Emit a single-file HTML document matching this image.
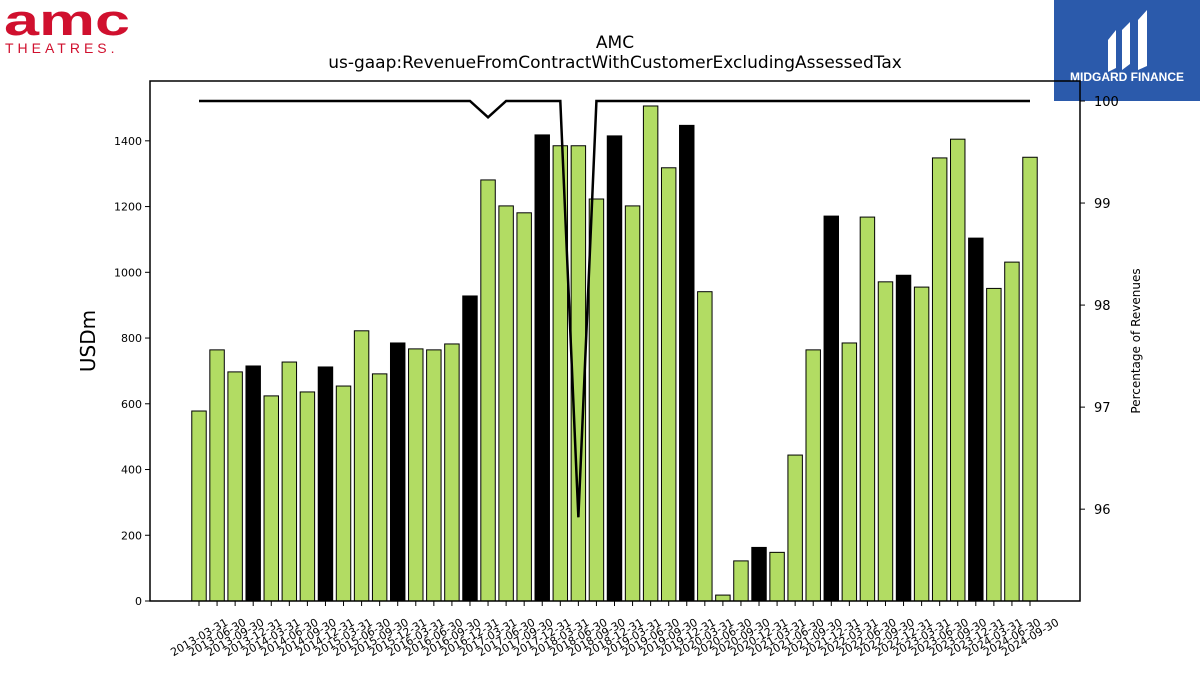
<!DOCTYPE html>
<html><head><meta charset="utf-8"><style>
body{margin:0;background:#fff;width:1200px;height:675px;overflow:hidden;font-family:"Liberation Sans","DejaVu Sans",sans-serif}
svg text{font-family:"DejaVu Sans","Liberation Sans",sans-serif}
</style></head><body>
<svg id="c" width="1200" height="675" xmlns="http://www.w3.org/2000/svg">
<g>
<text x="4" y="35" font-size="44" font-weight="bold" fill="#d0102e" style="font-family:'Liberation Sans',sans-serif" textLength="126" lengthAdjust="spacingAndGlyphs">amc</text>
<text x="5" y="53" font-size="14" fill="#d0102e" style="font-family:'Liberation Sans',sans-serif;letter-spacing:4px">THEATRES.</text>
</g>
<g>
<rect x="1054" y="0" width="146" height="101" fill="#2b5aab"/>
<path d="M1108 40 L1116 30 L1116 68 L1108 72 Z M1122 30 L1130 22 L1130 64 L1122 70 Z M1138 20 L1147 10 L1147 66 L1138 70 Z" fill="#fff"/>
<text x="1127" y="81" font-size="12" font-weight="bold" fill="#fff" text-anchor="middle" style="font-family:'Liberation Sans',sans-serif">MIDGARD FINANCE</text>
</g>
<text x="615" y="48" font-size="17" text-anchor="middle">AMC</text>
<text x="615" y="68" font-size="17" text-anchor="middle">us-gaap:RevenueFromContractWithCustomerExcludingAssessedTax</text>
<text transform="translate(95,341) rotate(-90)" font-size="20" text-anchor="middle">USDm</text>
<text transform="translate(1140,341) rotate(-90)" font-size="12" text-anchor="middle">Percentage of Revenues</text>
</svg>
<script>
const categories=["2013-03-31","2013-06-30","2013-09-30","2013-12-31","2014-03-31","2014-06-30","2014-09-30","2014-12-31","2015-03-31","2015-06-30","2015-09-30","2015-12-31","2016-03-31","2016-06-30","2016-09-30","2016-12-31","2017-03-31","2017-06-30","2017-09-30","2017-12-31","2018-03-31","2018-06-30","2018-09-30","2018-12-31","2019-03-31","2019-06-30","2019-09-30","2019-12-31","2020-03-31","2020-06-30","2020-09-30","2020-12-31","2021-03-31","2021-06-30","2021-09-30","2021-12-31","2022-03-31","2022-06-30","2022-09-30","2022-12-31","2023-03-31","2023-06-30","2023-09-30","2023-12-31","2024-03-31","2024-06-30","2024-09-30"];
const revenues=[578,764,697,715,624,727,636,712,654,822,691,785,767,764,782,928,1281,1202,1181,1418,1385,1385,1223,1415,1202,1506,1318,1447,941,18,122,163,148,444,764,1171,785,1168,971,991,955,1348,1405,1104,951,1031,1350];
const pctValues=[100,100,100,100,100,100,100,100,100,100,100,100,100,100,100,100,99.84,100,100,100,100,95.92,100,100,100,100,100,100,100,100,100,100,100,100,100,100,100,100,100,100,100,100,100,100,100,100,100];
const leftTicks=[0,200,400,600,800,1000,1200,1400];
const rightTicks=[96,97,98,99,100];
const L=150,R=1080,T=81,B=601;
const yL=v=>B-v*(B-T)/1582;
const yR=v=>B-(v-95.1)*(B-T)/(100.196-95.1);
const xC=i=>199+i*(1030-199)/(categories.length-1);
const svg=document.getElementById('c');
const NS='http://www.w3.org/2000/svg';
function mk(t,a,p){const e=document.createElementNS(NS,t);for(const k in a)e.setAttribute(k,a[k]);(p||svg).appendChild(e);return e;}
const bw=(1030-199)/(categories.length-1)*0.8;
revenues.forEach((v,i)=>{
 const r=mk('rect',{x:xC(i)-bw/2,y:yL(v),width:bw,height:B-yL(v),fill:(i%4==3)?'#000':'#b2dc63',stroke:'#000','stroke-width':1});
 
 
 mk('line',{x1:xC(i),x2:xC(i),y1:B,y2:B+5,stroke:'#000'});
 const t=mk('text',{x:0,y:4,'font-size':11,'text-anchor':'middle',transform:`translate(${xC(i)},${B+36}) rotate(-30)`});
 t.textContent=categories[i];
 
 
});
let d='';pctValues.forEach((v,i)=>{d+=(i?'L':'M')+xC(i)+' '+yR(v)});
const ln=mk('path',{d:d,fill:'none',stroke:'#000','stroke-width':2.5});


const fr=mk('rect',{x:L,y:T,width:R-L,height:B-T,fill:'none',stroke:'#000','stroke-width':1.5});


leftTicks.forEach(v=>{
 mk('line',{x1:L-5,x2:L,y1:yL(v),y2:yL(v),stroke:'#000'});
 const t=mk('text',{x:L-8,y:yL(v)+4,'font-size':11,'text-anchor':'end'});t.textContent=v;
 
 
});
rightTicks.forEach(v=>{
 mk('line',{x1:R,x2:R+5,y1:yR(v),y2:yR(v),stroke:'#000'});
 const t=mk('text',{x:R+14,y:yR(v)+5,'font-size':13});t.textContent=v;
 
 
});
</script>
</body></html>
